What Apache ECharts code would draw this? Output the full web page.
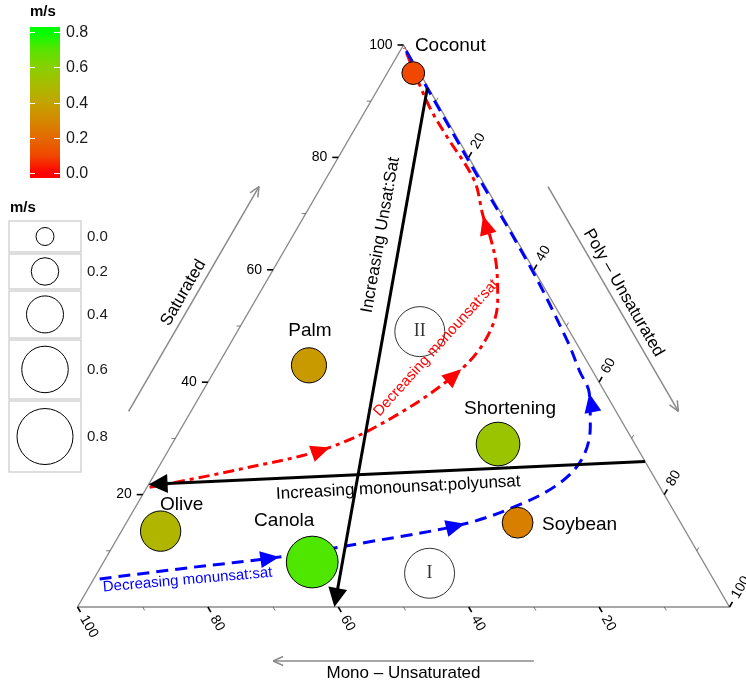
<!DOCTYPE html>
<html>
<head>
<meta charset="utf-8">
<script src="https://cdn.jsdelivr.net/npm/echarts@6/dist/echarts.min.js"></script>
<style>
  html, body { margin: 0; padding: 0; background: #ffffff; }
  #chart { width: 746px; height: 684px; }
</style>
</head>
<body>
<div id="chart"></div>
<script>
// ---- Fatty-acid composition of cooking oils: [% saturated, % mono-unsat, % poly-unsat]
const oils      = ['Coconut', 'Palm', 'Olive', 'Canola', 'Shortening', 'Soybean'];
const saturated = [95,   43,   13.5, 8,    29,   15];
const monoUnsat = [1,    43,   80.5, 60,   21,   25];
const polyUnsat = [4,    14,   6,    32,   50,   60];
const speed     = [0.10, 0.36, 0.47, 0.71, 0.54, 0.27];   // m/s

// ---- Reference regions
const regionNames = ['I', 'II'];
const regionSat   = [6,  49];
const regionMono  = [43, 23];
const regionPoly  = [51, 28];

// ---- Trend paths, points given as [sat, mono, poly]
const redPath = [
  [21.3, 78.3, 0.4], [24.5, 62.9, 12.6], [28.4, 47.1, 24.5], [34.5, 33.3, 32.2],
  [42.3, 20.0, 37.7], [48.2, 13.0, 38.8], [54.5, 8.3, 37.2], [60.7, 5.4, 33.9],
  [66.1, 3.7, 30.2], [69.6, 3.0, 27.4], [75.9, 1.2, 22.9], [83.9, 1.5, 14.6],
  [89.3, 1.5, 9.2], [99.5, 0.1, 0.4]
];
const redArrowAt = [2, 4, 9];
const bluePath = [
  [5.0, 94.1, 0.9], [7.0, 79.3, 13.7], [8.9, 64.6, 26.5], [11.6, 49.4, 39.0],
  [14.8, 33.2, 52.0], [18.2, 23.1, 58.7], [22.0, 15.1, 62.9], [26.4, 9.4, 64.2],
  [32.1, 5.3, 62.6], [38.0, 2.5, 59.5], [42.0, 2.0, 56.0], [47.3, 1.2, 51.5],
  [60.4, 0.3, 39.3], [80.4, 0.3, 19.3], [99.5, 0.1, 0.4]
];
const blueArrowAt = [2, 4, 9];
const unsatSatLine = [[92.3, 0.2, 7.5], [0, 60.6, 39.4]];
const monoPolyLine = [[25.9, 0, 74.1], [21.8, 78.2, 0]];

// ---- Axis ticks and legend steps
const majorTicks  = [20, 40, 60, 80, 100];
const minorTicks  = [10, 30, 50, 70, 90];
const legendSteps = [0.0, 0.2, 0.4, 0.6, 0.8];
const axisTitles  = ['Saturated', 'Mono \u2013 Unsaturated', 'Poly \u2013 Unsaturated'];

// ---- Scales / styling
const SPEED_MAX  = 0.8;
const SIZE_RANGE = [18, 56];
const COLOR_STOPS = ['#ff0000', '#f04800', '#e46a00', '#d48800', '#c2a400',
                     '#a8bc00', '#88d000', '#58e400', '#00ff00'];
const FONT = '"Liberation Sans", Arial, Helvetica, sans-serif';
const SERIF = '"Liberation Serif", "DejaVu Serif", serif';

// ternary [s, m, p] -> cartesian data space (x in 0..100, y in 0..100)
function toXY(t) {
  const s = t[0], m = t[1], p = t[2], sum = s + m + p;
  return [(p + s / 2) * 100 / sum, s * 100 / sum];
}
const APEX = toXY([100, 0, 0]), LEFT = toXY([0, 100, 0]), RIGHT = toXY([0, 0, 100]);

function unit(a, b) {
  const dx = b[0] - a[0], dy = b[1] - a[1], L = Math.hypot(dx, dy);
  return [dx / L, dy / L];
}
function arrowHead(tip, dir, len, half, color) {
  const bx = tip[0] - dir[0] * len, by = tip[1] - dir[1] * len;
  const nx = -dir[1], ny = dir[0];
  return {
    type: 'polygon',
    shape: { points: [tip, [bx + nx * half, by + ny * half], [bx - nx * half, by - ny * half]] },
    style: { fill: color }
  };
}
function sizeOf(v) { return SIZE_RANGE[0] + (SIZE_RANGE[1] - SIZE_RANGE[0]) * v / SPEED_MAX; }

// tick items: [axis, value, isMajor]; axis 0 = saturated, 1 = mono, 2 = poly
const tickItems = [];
[0, 1, 2].forEach(function (a) {
  majorTicks.forEach(function (v) { tickItems.push([a, v, 1]); });
  minorTicks.forEach(function (v) { tickItems.push([a, v, 0]); });
});

function renderTick(params, api) {
  const it = tickItems[params.dataIndex];
  const axis = it[0], v = it[1], major = it[2];
  const A = api.coord(APEX), L = api.coord(LEFT), R = api.coord(RIGHT);
  let tern, dir;
  if (axis === 0) { tern = [v, 100 - v, 0]; dir = [-1, 0]; }
  else if (axis === 1) { tern = [0, v, 100 - v]; dir = unit(A, R); }
  else { tern = [100 - v, 0, v]; dir = unit(L, A); }
  const pt = api.coord(toXY(tern));
  const len = major ? 6 : 4;
  const children = [{
    type: 'line',
    shape: { x1: pt[0], y1: pt[1], x2: pt[0] + dir[0] * len, y2: pt[1] + dir[1] * len },
    style: { stroke: major ? '#000' : '#555', lineWidth: major ? 1.6 : 0.8 }
  }];
  if (major) {
    const gap = 11;
    const ts = { text: String(v), fill: '#000', fontSize: 14, fontFamily: FONT, verticalAlign: 'middle' };
    if (axis === 0) {
      children.push({ type: 'text', x: pt[0] - gap, y: pt[1], style: Object.assign({ align: 'right' }, ts) });
    } else {
      children.push({
        type: 'text', x: pt[0], y: pt[1], rotation: -Math.atan2(dir[1], dir[0]),
        style: Object.assign({ align: 'left', x: gap, y: 0 }, ts)
      });
    }
  }
  return { type: 'group', children: children };
}

// axis title arrows placed parallel to each edge, offset outward
const OUT = 54;
function renderAxisArrows(params, api) {
  const A = api.coord(APEX), L = api.coord(LEFT), R = api.coord(RIGHT);
  const dl = unit(L, A), dr = unit(A, R);
  const defs = [
    { from: toXY([30, 70, 0]), to: toXY([70, 30, 0]), normal: [dl[1], -dl[0]], title: axisTitles[0] },
    { from: toXY([0, 30, 70]), to: toXY([0, 70, 30]), normal: [0, 1], title: axisTitles[1] },
    { from: toXY([70, 0, 30]), to: toXY([30, 0, 70]), normal: [dr[1], -dr[0]], title: axisTitles[2] }
  ];
  const children = [];
  defs.forEach(function (d) {
    const p0 = api.coord(d.from), p1 = api.coord(d.to);
    const a = [p0[0] + d.normal[0] * OUT, p0[1] + d.normal[1] * OUT];
    const b = [p1[0] + d.normal[0] * OUT, p1[1] + d.normal[1] * OUT];
    const dir = unit(a, b);
    children.push({ type: 'line', shape: { x1: a[0], y1: a[1], x2: b[0], y2: b[1] }, style: { stroke: '#8a8a8a', lineWidth: 1.5 } });
    const wing = 11, ang = Math.PI / 7.5;
    [ang, -ang].forEach(function (t) {
      const c = Math.cos(t), s = Math.sin(t);
      const wx = -(dir[0] * c - dir[1] * s), wy = -(dir[0] * s + dir[1] * c);
      children.push({ type: 'line', shape: { x1: b[0], y1: b[1], x2: b[0] + wx * wing, y2: b[1] + wy * wing }, style: { stroke: '#8a8a8a', lineWidth: 1.5 } });
    });
    const mid = [(a[0] + b[0]) / 2 + d.normal[0] * 12, (a[1] + b[1]) / 2 + d.normal[1] * 12];
    let rot = -Math.atan2(dir[1], dir[0]);
    if (Math.abs(rot) > Math.PI / 2) rot = rot > 0 ? rot - Math.PI : rot + Math.PI;
    children.push({
      type: 'text', x: mid[0], y: mid[1], rotation: rot,
      style: { text: d.title, fill: '#000', fontSize: 17, fontFamily: FONT, align: 'center', verticalAlign: 'middle' }
    });
  });
  return { type: 'group', children: children };
}

function pathArrowSeries(path, idxs, color) {
  return {
    type: 'custom', coordinateSystem: 'cartesian2d', clip: false, silent: true, z: 3,
    data: idxs.map(function (i) { return toXY(path[i]); }),
    renderItem: function (params, api) {
      const i = idxs[params.dataIndex];
      const tip = api.coord(toXY(path[i]));
      const dir = unit(api.coord(toXY(path[i - 1])), api.coord(toXY(path[i + 1])));
      return arrowHead(tip, dir, 19, 8.5, color);
    }
  };
}

const blackLines = [unsatSatLine, monoPolyLine];

// text annotations in cartesian data space
const notes = [
  { at: [55.0, 46.1], rot: 48, text: 'Decreasing monounsat:sat', color: '#ff0000', size: 15 },
  { at: [16.9, 4.8],  rot: 5,  text: 'Decreasing monunsat:sat',  color: '#0000ff', size: 15 },
  { at: [46.5, 66.2], rot: 80, text: 'Increasing Unsat:Sat',     color: '#000000', size: 17 },
  { at: [49.2, 21.2], rot: 3,  text: 'Increasing monounsat:polyunsat', color: '#000000', size: 17 }
];

// point-label placement (offset of label centre from the marker centre, px)
const labelOffsets = {
  Coconut: [37, -27], Palm: [1, -35], Olive: [21, -26],
  Canola: [-28, -41], Shortening: [12, -35], Soybean: [62, 2]
};

const oilData = oils.map(function (name, i) {
  const xy = toXY([saturated[i], monoUnsat[i], polyUnsat[i]]);
  return { name: name, value: [xy[0], xy[1], speed[i]], label: { offset: labelOffsets[name] } };
});
const regionData = regionNames.map(function (name, i) {
  const xy = toXY([regionSat[i], regionMono[i], regionPoly[i]]);
  return { name: name, value: xy };
});

// ---- legends (colour bar and size keys)
const barTop = 27, barBottom = 178, bar0 = 173, bar8 = 32;
function barY(v) { return bar0 - (bar0 - bar8) * v / SPEED_MAX; }
const gradStops = [];
COLOR_STOPS.forEach(function (c, k) {
  const v = SPEED_MAX * k / (COLOR_STOPS.length - 1);
  gradStops.push({ offset: (barBottom - barY(v)) / (barBottom - barTop), color: c });
});
gradStops.unshift({ offset: 0, color: COLOR_STOPS[0] });
gradStops.push({ offset: 1, color: COLOR_STOPS[COLOR_STOPS.length - 1] });

const graphics = [];
graphics.push({ type: 'text', left: 30, top: 4, style: { text: 'm/s', fontSize: 15, fontWeight: 'bold', fontFamily: FONT, fill: '#000' } });
graphics.push({
  type: 'rect', shape: { x: 30, y: barTop, width: 30, height: barBottom - barTop },
  style: { fill: new echarts.graphic.LinearGradient(0, 1, 0, 0, gradStops) }
});
legendSteps.forEach(function (v) {
  const y = Math.round(barY(v)) + 0.5;
  graphics.push({ type: 'line', shape: { x1: 30, y1: y, x2: 35, y2: y }, style: { stroke: '#ffffff', lineWidth: 1 } });
  graphics.push({ type: 'line', shape: { x1: 54, y1: y, x2: 60, y2: y }, style: { stroke: '#ffffff', lineWidth: 1 } });
  graphics.push({ type: 'text', x: 66, y: y, style: { text: v.toFixed(1), fontSize: 16, fontFamily: FONT, fill: '#1a1a1a', verticalAlign: 'middle' } });
});
graphics.push({ type: 'text', left: 10, top: 200, style: { text: 'm/s', fontSize: 15, fontWeight: 'bold', fontFamily: FONT, fill: '#000' } });
let keyY = 221;
legendSteps.forEach(function (v) {
  const d = sizeOf(v);
  const h = Math.max(31, d * 1.27);
  graphics.push({ type: 'rect', shape: { x: 9, y: keyY, width: 72, height: h }, style: { fill: '#ffffff', stroke: '#d4d4d4', lineWidth: 1.5 } });
  graphics.push({ type: 'circle', shape: { cx: 45, cy: keyY + h / 2, r: d / 2 }, style: { fill: 'none', stroke: '#000', lineWidth: 1 } });
  graphics.push({ type: 'text', x: 87, y: keyY + h / 2, style: { text: v.toFixed(1), fontSize: 15, fontFamily: FONT, fill: '#1a1a1a', verticalAlign: 'middle' } });
  keyY += h + 2;
});

const chart = echarts.init(document.getElementById('chart'), null, { renderer: 'canvas' });
chart.setOption({
  animation: false,
  backgroundColor: '#ffffff',
  textStyle: { fontFamily: FONT },
  grid: { left: 77.5, top: 45, width: 652, height: 562 },
  xAxis: { type: 'value', min: 0, max: 100, show: false },
  yAxis: { type: 'value', min: 0, max: 100, show: false },
  visualMap: [{
    type: 'continuous', show: false, min: 0, max: SPEED_MAX, dimension: 2, seriesIndex: 7,
    inRange: { color: COLOR_STOPS, symbolSize: SIZE_RANGE }
  }],
  graphic: graphics,
  series: [
    { // 0: triangle frame
      type: 'line', data: [LEFT, APEX, RIGHT, LEFT], symbol: 'none', silent: true, clip: false, z: 1,
      lineStyle: { color: '#8a8a8a', width: 1.4 }
    },
    { // 1: ticks and tick labels
      type: 'custom', coordinateSystem: 'cartesian2d', clip: false, silent: true, z: 2,
      data: tickItems.map(function () { return [0, 0]; }), renderItem: renderTick
    },
    { // 2: axis title arrows
      type: 'custom', coordinateSystem: 'cartesian2d', clip: false, silent: true, z: 2,
      data: [[0, 0]], renderItem: renderAxisArrows
    },
    { // 3: red trend path
      type: 'line', data: redPath.map(toXY), smooth: 0.35, symbol: 'none', silent: true, clip: false, z: 3,
      lineStyle: { color: '#ff0000', width: 3, type: [11, 5, 4, 5] }
    },
    { // 4: blue trend path
      type: 'line', data: bluePath.map(toXY), smooth: 0.35, symbol: 'none', silent: true, clip: false, z: 3,
      lineStyle: { color: '#0000ff', width: 3, type: [12, 7] }
    },
    pathArrowSeries(redPath, redArrowAt, '#ff0000'),   // 5
    pathArrowSeries(bluePath, blueArrowAt, '#0000ff'), // 6
    { // 7: oils
      type: 'scatter', data: oilData, symbol: 'circle', z: 4, silent: true, clip: false,
      itemStyle: { borderColor: '#000', borderWidth: 1, opacity: 1 },
      label: { show: true, position: 'inside', formatter: '{b}', color: '#000', fontSize: 19, fontFamily: FONT, textBorderWidth: 0 }
    },
    { // 8: regions I and II
      type: 'scatter', data: regionData, symbol: 'circle', symbolSize: 50, z: 4, silent: true, clip: false,
      itemStyle: { color: 'rgba(255,255,255,0)', borderColor: '#000', borderWidth: 1 },
      label: { show: true, position: 'inside', formatter: '{b}', color: '#000', fontSize: 18, fontFamily: SERIF }
    },
    { // 9: black direction arrows
      type: 'custom', coordinateSystem: 'cartesian2d', clip: false, silent: true, z: 5,
      data: blackLines.map(function (l) { return toXY(l[0]); }),
      renderItem: function (params, api) {
        const l = blackLines[params.dataIndex];
        const a = api.coord(toXY(l[0])), b = api.coord(toXY(l[1]));
        const dir = unit(a, b), len = 19;
        return { type: 'group', children: [
          { type: 'line', shape: { x1: a[0], y1: a[1], x2: b[0] - dir[0] * len * 0.7, y2: b[1] - dir[1] * len * 0.7 }, style: { stroke: '#000', lineWidth: 3 } },
          arrowHead(b, dir, len, 9.5, '#000')
        ] };
      }
    },
    { // 10: annotations
      type: 'custom', coordinateSystem: 'cartesian2d', clip: false, silent: true, z: 6,
      data: notes.map(function (n) { return n.at; }),
      renderItem: function (params, api) {
        const n = notes[params.dataIndex];
        const p = api.coord(n.at);
        return { type: 'text', x: p[0], y: p[1], rotation: n.rot * Math.PI / 180,
          style: { text: n.text, fill: n.color, fontSize: n.size, fontFamily: FONT, align: 'center', verticalAlign: 'middle' } };
      }
    }
  ]
});
</script>
</body>
</html>
